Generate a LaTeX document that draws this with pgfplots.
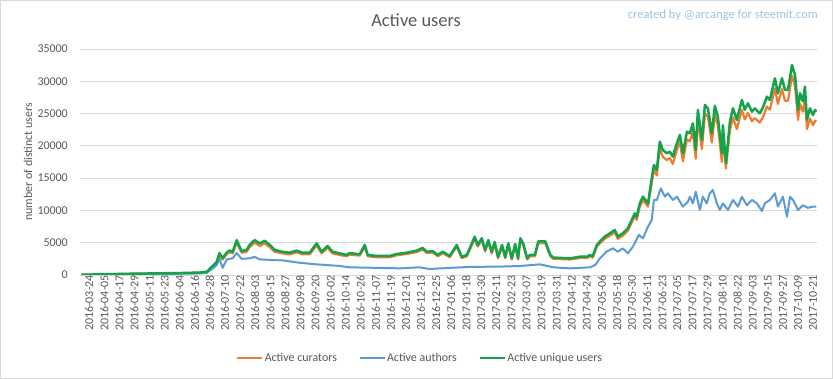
\documentclass[border=0pt]{standalone}
\usepackage{pgfplots}
\pgfplotsset{compat=1.18}
\usepackage{fontspec}
\setmainfont{Carlito}
\definecolor{cur}{HTML}{ED7D31}
\definecolor{aut}{HTML}{5B9BD5}
\definecolor{uni}{RGB}{20,163,75}
\definecolor{txt}{HTML}{595959}
\definecolor{grd}{HTML}{D9D9D9}
\definecolor{cred}{HTML}{9DC3E6}
\begin{document}
\begin{tikzpicture}
\useasboundingbox (0,0) rectangle (833bp,379bp);
\fill[white] (0,0) rectangle (833bp,379bp);
\draw[grd,line width=0.8bp] (0.5bp,0.5bp) rectangle (832.5bp,378.5bp);
\begin{axis}[
  at={(80bp,104bp)}, anchor=south west,
  scale only axis, width=737bp, height=226bp,
  xmin=-1, xmax=585.5, ymin=0, ymax=35000,
  axis line style={draw=none},
  major tick length=0pt,
  ymajorgrids, grid style={grd, line width=0.8bp},
  ytick={0,5000,...,35000},
  scaled y ticks=false,
  /pgf/number format/.cd, assume math mode=true, 1000 sep={}, /pgfplots/.cd,
  yticklabel style={anchor=east, inner sep=0pt, xshift=-12bp, font=\fontsize{12}{14}\selectfont, text=txt},
  xtick={0,12,...,576},
  xticklabels={2016-03-24,2016-04-05,2016-04-17,2016-04-29,2016-05-11,2016-05-23,2016-06-04,2016-06-16,2016-06-28,2016-07-10,2016-07-22,2016-08-03,2016-08-15,2016-08-27,2016-09-08,2016-09-20,2016-10-02,2016-10-14,2016-10-26,2016-11-07,2016-11-19,2016-12-01,2016-12-13,2016-12-25,2017-01-06,2017-01-18,2017-01-30,2017-02-11,2017-02-23,2017-03-07,2017-03-19,2017-03-31,2017-04-12,2017-04-24,2017-05-06,2017-05-18,2017-05-30,2017-06-11,2017-06-23,2017-07-05,2017-07-17,2017-07-29,2017-08-10,2017-08-22,2017-09-03,2017-09-15,2017-09-27,2017-10-09,2017-10-21},
  xticklabel style={rotate=90, anchor=east, inner sep=0pt, yshift=-8bp, font=\fontsize{12}{14}\selectfont, text=txt},
  ylabel={number of distinct users},
  ylabel style={at={(axis description cs:-0.0706,0.5)}, anchor=center, font=\fontsize{12}{14}\selectfont, text=txt},
  title={Active users},
  title style={at={(axis description cs:0.456,1)}, anchor=center, yshift=23bp, font=\fontsize{18.5}{20}\selectfont, text=txt},
  legend columns=3,
  legend style={at={(axis description cs:0.461,-0.367)}, anchor=center, draw=none, fill=none,
    font=\fontsize{12}{14}\selectfont, text=txt,
    /tikz/every even column/.append style={column sep=20bp},
    nodes={inner sep=1.5bp}},
  legend image code/.code={\draw[#1] (0bp,0bp) -- (25bp,0bp);},
  every axis plot/.append style={line join=round},
]
\addplot[cur, line width=2.2bp] coordinates {
(0,25)(10,70)(20,105)(40,180)(60,225)(80,280)(95,340)(100,450)(107.7,1850)(110,3100)(112.5,2400)(115.7,3200)(118,3550)(120.5,3350)(123.7,5000)(127.6,3450)(131.6,3600)(134,4300)(138,5000)(142,4500)(146,4900)(150,4300)(154,3600)(160,3350)(165.8,3200)(171.4,3500)(176.2,3200)(181.8,3200)(187.3,4600)(191.3,3350)(196,4200)(200,3350)(205.6,3100)(211.2,2900)(213.6,3150)(221.6,3000)(225.6,4350)(228,2900)(235,2750)(245.5,2750)(251,3050)(259,3250)(267,3550)(271.7,3950)(275,3400)(279.7,3500)(283.7,2900)(287.7,3400)(293.2,2750)(298.8,4400)(302.8,2600)(306.8,2900)(310.8,4600)(313.1,5600)(315.5,4400)(318.7,5400)(321.4,3650)(323.9,5100)(326.6,3350)(329,4800)(331.7,2600)(334.9,4400)(337.4,2600)(339.8,4600)(342.6,2400)(345.3,4500)(347.6,2400)(349.4,5400)(351.7,4600)(354.9,2400)(356.9,2900)(361,2900)(363.7,4900)(369.3,4900)(373.3,2900)(375.6,2500)(389,2400)(397,2650)(402.5,2650)(405,2900)(407,2700)(410.3,4400)(412.7,4900)(416.6,5600)(420.6,6100)(424.6,6600)(427,5600)(431,6100)(435,6850)(438,8100)(440.5,9100)(442,8550)(444.5,10600)(447,11600)(451,10600)(454,14300)(455.7,16300)(458,15400)(460.4,19700)(462.8,18300)(466,17800)(468.4,18100)(470.8,17200)(474,19400)(476.4,20600)(478.8,17600)(482,21000)(484.3,20700)(486.7,22200)(489,18000)(490.7,24200)(493.9,19500)(496.3,25000)(498.7,24500)(501.8,20500)(504.2,24800)(506.6,23200)(509.8,17500)(510.6,21800)(513,16500)(516.2,22400)(518.6,24400)(521.7,22600)(525.7,25600)(528,24100)(530.5,25100)(533.7,23800)(536,24300)(540,23600)(542.4,24400)(545.6,26100)(548,25600)(552,28900)(554.4,26500)(557.6,28800)(560,27000)(562.4,27000)(565.6,30900)(568,29300)(570.4,24000)(572,26500)(574.3,25300)(575.9,27500)(577.5,22600)(579.9,24200)(582.3,23200)(583.9,23900)(585,23750)
};
\addlegendentry{Active curators}
\addplot[aut, line width=2bp] coordinates {
(0,10)(20,60)(40,110)(60,150)(80,200)(95,250)(100,350)(107.7,1500)(110,2500)(112.5,1100)(115.7,2400)(120.5,2600)(123.7,3400)(127.6,2500)(134,2580)(138,2800)(142,2420)(154,2300)(160,2270)(173.6,1900)(187.3,1650)(205.6,1400)(213.6,1190)(237,1100)(253.4,1030)(269,1190)(277,930)(293,1100)(309,1250)(333,1300)(349,1390)(365,1650)(375.6,1190)(389,1030)(405,1190)(409,1550)(412.7,2580)(418,3610)(423,4130)(427,3610)(431,4130)(435,3360)(439,4390)(443.7,6200)(447,5680)(451,7490)(454,8520)(455.7,11620)(458,11620)(461.2,13420)(464.4,12130)(466.8,12650)(470.8,11620)(474,12130)(478.8,10590)(482.8,11360)(484.3,12130)(486.7,11100)(489,12900)(492.3,10070)(494.6,12130)(497.8,11100)(500,12600)(502.6,13170)(505.8,11100)(508.2,10070)(510.6,11100)(514.6,10070)(518.6,11620)(522.6,10600)(525.7,12130)(529.7,10800)(533.7,11620)(537.7,11100)(541.7,9900)(544,11100)(548,11620)(552,12650)(554.4,10600)(558.4,12130)(561.6,9030)(564,12130)(566.4,11620)(570.4,10070)(574.3,10800)(578.3,10400)(582.3,10600)(585,10590)
};
\addlegendentry{Active authors}
\addplot[uni, line width=2.5bp] coordinates {
(0,30)(10,80)(20,120)(40,200)(60,250)(80,310)(95,380)(100,500)(107.7,2000)(110,3400)(112.5,2600)(115.7,3450)(118,3800)(120.5,3600)(123.7,5400)(127.6,3700)(131.6,3900)(134,4650)(138,5400)(142,4900)(146,5300)(150,4650)(154,3870)(160,3600)(165.8,3450)(171.4,3770)(176.2,3450)(181.8,3450)(187.3,4900)(191.3,3600)(196,4500)(200,3600)(205.6,3350)(211.2,3100)(213.6,3400)(221.6,3200)(225.6,4650)(228,3100)(235,2950)(245.5,2950)(251,3250)(259,3450)(267,3770)(271.7,4200)(275,3600)(279.7,3700)(283.7,3100)(287.7,3600)(293.2,2950)(298.8,4650)(302.8,2800)(306.8,3100)(310.8,4900)(313.1,5930)(315.5,4650)(318.7,5700)(321.4,3900)(323.9,5400)(326.6,3600)(329,5100)(331.7,2800)(334.9,4650)(337.4,2800)(339.8,4900)(342.6,2580)(345.3,4800)(347.6,2580)(349.4,5700)(351.7,4900)(354.9,2580)(356.9,3100)(361,3100)(363.7,5200)(369.3,5200)(373.3,3100)(375.6,2700)(389,2580)(397,2840)(402.5,2840)(405,3100)(407,2900)(410.3,4650)(412.7,5170)(416.6,5940)(420.6,6450)(424.6,6970)(427,5940)(431,6450)(435,7230)(438,8520)(440.5,9550)(442,9000)(444.5,11100)(447,12130)(451,11100)(454,14980)(455.7,17040)(458,16260)(460.4,20650)(462.8,19360)(466,18850)(468.4,19100)(470.8,18330)(474,20400)(476.4,21690)(478.8,18850)(482,22200)(484.3,21940)(486.7,23490)(489,19360)(490.7,25560)(493.9,20900)(496.3,26330)(498.7,25800)(501.8,21940)(504.2,26180)(506.6,24530)(509.8,18850)(510.6,23180)(513,17300)(516.2,23750)(518.6,25820)(521.7,24010)(525.7,27110)(528,25600)(530.5,26590)(533.7,25300)(536,25800)(540,25040)(542.4,25900)(545.6,27620)(548,27100)(552,30460)(554.4,28140)(557.6,30460)(560,28660)(562.4,28660)(565.6,32530)(568,30980)(570.4,25560)(572,28140)(574.3,26900)(575.9,29170)(577.5,24010)(579.9,25820)(582.3,24780)(583.9,25560)(585,25300)
};
\addlegendentry{Active unique users}
\end{axis}
\node[anchor=east, inner sep=0pt, text=cred, font=\fontsize{12.5}{14}\selectfont] at (818bp,364bp) {created by @arcange for steemit.com};
\end{tikzpicture}
\end{document}
